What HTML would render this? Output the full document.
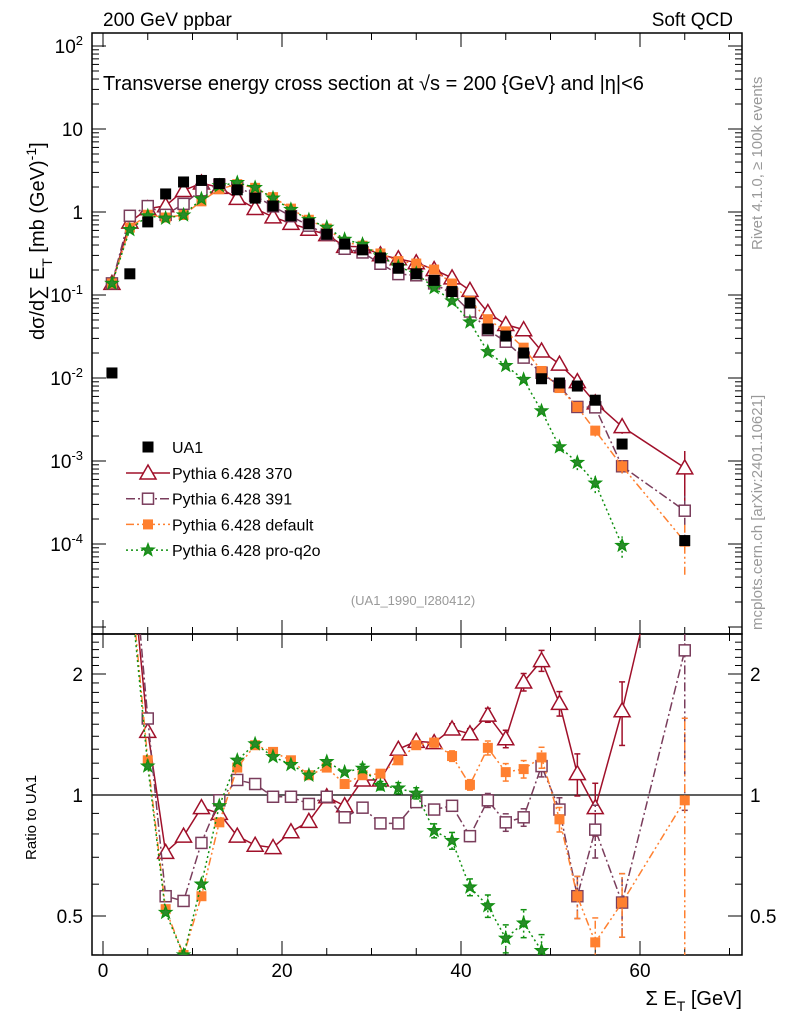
<!DOCTYPE html>
<html><head><meta charset="utf-8"><style>
html,body{margin:0;padding:0;background:#fff;width:786px;height:1024px;overflow:hidden;}
svg{display:block;font-family:"Liberation Sans",sans-serif;}
</style></head><body>
<svg id="c" width="786" height="1024" viewBox="0 0 786 1024" xmlns="http://www.w3.org/2000/svg">
<defs>
<clipPath id="cm"><rect x="92" y="33" width="650" height="601"/></clipPath>
<clipPath id="cr"><rect x="92" y="634" width="650" height="321"/></clipPath>
</defs>
<text x="103" y="26" font-size="19">200 GeV ppbar</text>
<text x="733" y="26" font-size="19" text-anchor="end">Soft QCD</text>
<text x="103" y="90" font-size="20">Transverse energy cross section at √s = 200 {GeV} and |η|&lt;6</text>
<text x="413" y="605" font-size="13" fill="#999" text-anchor="middle">(UA1_1990_I280412)</text>
<text transform="translate(762,250) rotate(-90)" font-size="15" fill="#999">Rivet 4.1.0, ≥ 100k events</text>
<text transform="translate(762,630) rotate(-90)" font-size="15" fill="#999">mcplots.cern.ch [arXiv:2401.10621]</text>
<text transform="translate(44,340) rotate(-90)" font-size="20">dσ/d∑ E<tspan dy="8" font-size="14">T</tspan><tspan dy="-8"> [mb (GeV)</tspan><tspan dy="-8" font-size="14">-1</tspan><tspan dy="8">]</tspan></text>
<text transform="translate(36,860) rotate(-90)" font-size="15">Ratio to UA1</text>
<text x="742" y="1005" font-size="20" text-anchor="end">Σ E<tspan dy="6" font-size="14">T</tspan><tspan dy="-6"> [GeV]</tspan></text>
<g id="g"></g>
</svg>
<script>
const xs = [1,3,5,7,9,11,13,15,17,19,21,23,25,27,29,31,33,35,37,39,41,43,45,47,49,51,53,55,58,65];
const ua1 = [0.0115,0.18,0.76,1.65,2.3,2.4,2.2,1.85,1.47,1.18,0.9,0.72,0.54,0.41,0.35,0.28,0.21,0.18,0.15,0.11,0.08,0.039,0.032,0.02,0.0098,0.0087,0.008,0.0054,0.0016,0.00011];
const r370 = [12,4.2,1.44,0.72,0.79,0.93,0.90,0.79,0.75,0.74,0.81,0.86,0.99,0.94,1.09,1.09,1.30,1.36,1.35,1.46,1.42,1.58,1.38,1.91,2.16,1.69,1.13,0.93,1.62,7.5];
const r391 = [12,5,1.55,0.56,0.545,0.76,0.97,1.09,1.065,0.99,0.99,0.95,0.99,0.88,0.93,0.85,0.85,0.96,0.92,0.94,0.79,0.97,0.855,0.88,1.18,0.92,0.56,0.82,0.54,2.29];
const rDef = [12,3.6,1.22,0.52,0.40,0.56,0.855,1.17,1.33,1.28,1.22,1.12,1.17,1.065,1.12,1.13,1.22,1.33,1.35,1.25,1.06,1.31,1.14,1.16,1.24,0.87,0.56,0.43,0.54,0.97];
const rQ2o = [12,3.4,1.18,0.51,0.40,0.60,0.94,1.22,1.34,1.245,1.19,1.12,1.21,1.14,1.165,1.055,1.04,1.01,0.815,0.77,0.59,0.53,0.44,0.48,0.41,0.17,0.12,0.1,0.06,null];
const relErr = [0.01,0.01,0.01,0.01,0.01,0.01,0.01,0.01,0.01,0.01,0.01,0.01,0.01,0.01,0.015,0.015,0.02,0.02,0.025,0.03,0.03,0.04,0.05,0.05,0.06,0.07,0.12,0.15,0.18,0.6];
const xTicks = [0,20,40,60];
const yDecades = [-4,-3,-2,-1,0,1,2];
const rTicks = [0.5,1,2];

const NS="http://www.w3.org/2000/svg";
const G=document.getElementById('g');
const X=v=>103+8.95*v;
const Y=v=>212-83*Math.log10(v);
const R=r=>795-121*Math.log2(r);
function mk(tag,attrs,parent){const e=document.createElementNS(NS,tag);for(const k in attrs)e.setAttribute(k,attrs[k]);(parent||G).appendChild(e);return e;}

let f1=mk('rect',{x:92,y:33,width:650,height:601,fill:'none',stroke:'#000','stroke-width':1.5});


let f2=mk('rect',{x:92,y:634,width:650,height:321,fill:'none',stroke:'#000','stroke-width':1.5});


let one=mk('line',{x1:92,x2:742,y1:R(1),y2:R(1),stroke:'#000','stroke-width':1.2});



for(let v=0;v<=70;v+=5){
  const major=v%20===0, L=major?14:7, px=X(v);
  [[33,1],[634,-1],[634,1],[955,-1]].forEach(([y0,d])=>{
    const t=mk('line',{x1:px,x2:px,y1:y0,y2:y0+d*L,stroke:'#000','stroke-width':1});
    
    
  });
}
xTicks.forEach(v=>{
  const t=mk('text',{x:X(v),y:977,'font-size':19,'text-anchor':'middle'});t.textContent=v;
  
  
});
for(let d=-5;d<=2;d++){
  for(let m=1;m<10;m++){
    const v=m*Math.pow(10,d), py=Y(v); if(py<33||py>634)continue;
    const L=m===1?14:7;
    [[92,1],[742,-1]].forEach(([x0,s])=>{
      const t=mk('line',{x1:x0,x2:x0+s*L,y1:py,y2:py,stroke:'#000','stroke-width':1});
      
      
    });
  }
}
yDecades.forEach(d=>{
  const t=mk('text',{x:83,y:Y(Math.pow(10,d))+7,'font-size':19,'text-anchor':'end'});
  
  
  if(d===0)t.textContent='1';
  else if(d===1)t.textContent='10';
  else{t.textContent='10';const s=mk('tspan',{dy:-8,'font-size':13},t);s.textContent=d;}
});
for(let r=0.4;r<=2.5;r+=0.1){
  const py=R(r); if(py<634||py>955)continue;
  const major=Math.abs(r-0.5)<1e-6||Math.abs(r-1)<1e-6||Math.abs(r-2)<1e-6;
  const L=major?14:7;
  [[92,1],[742,-1]].forEach(([x0,s])=>{
    const t=mk('line',{x1:x0,x2:x0+s*L,y1:py,y2:py,stroke:'#000','stroke-width':1});
    
    
  });
}
rTicks.forEach(r=>{
  [[83,'end'],[750,'start']].forEach(([x0,a])=>{
    const t=mk('text',{x:x0,y:R(r)+7,'font-size':19,'text-anchor':a});t.textContent=r;
    
    
  });
});

function marker(type,color,px,py,par){
  let e;
  if(type==='tri') e=mk('path',{d:`M${px},${py-8}L${px+8},${py+6}L${px-8},${py+6}Z`,fill:'#fff',stroke:color,'stroke-width':1.5},par);
  else if(type==='osq') e=mk('rect',{x:px-5.5,y:py-5.5,width:11,height:11,fill:'#fff',stroke:color,'stroke-width':1.5},par);
  else if(type==='fsq') e=mk('rect',{x:px-5,y:py-5,width:10,height:10,fill:color},par);
  else if(type==='bsq') e=mk('rect',{x:px-5.5,y:py-5.5,width:11,height:11,fill:color},par);
  else {let p='';for(let i=0;i<10;i++){const a=-Math.PI/2+i*Math.PI/5,rr=i%2?2.7:6.5;p+=(i?'L':'M')+(px+rr*Math.cos(a)).toFixed(1)+','+(py+rr*Math.sin(a)).toFixed(1);}
    e=mk('path',{d:p+'Z',fill:'#2a8a2a',stroke:color,'stroke-width':1.2},par);}
  return e;
}

const series=[
  {name:'pythia-370',ratio:r370,color:'#a0102a',dash:'',m:'tri',label:'Pythia 6.428 370'},
  {name:'pythia-391',ratio:r391,color:'#7a3d5c',dash:'9,3,2,3',m:'osq',label:'Pythia 6.428 391'},
  {name:'pythia-default',ratio:rDef,color:'#ff8030',dash:'8,3,2,3,2,3',m:'fsq',label:'Pythia 6.428 default'},
  {name:'pythia-pro-q2o',ratio:rQ2o,color:'#109010',dash:'2,3',m:'star',label:'Pythia 6.428 pro-q2o'}
];
const mainG=mk('g',{'clip-path':'url(#cm)'});
const ratG=mk('g',{'clip-path':'url(#cr)'});
series.forEach(s=>{
  const gm=mk('g',{},mainG);
  
  
  const gr=mk('g',{},ratG);
  
  
  let pm='',pr='';
  xs.forEach((x,i)=>{
    const r=s.ratio[i]; if(r==null)return;
    const v=r*ua1[i];
    pm+=(pm?'L':'M')+X(x).toFixed(1)+','+Y(v).toFixed(1);
    pr+=(pr?'L':'M')+X(x).toFixed(1)+','+R(r).toFixed(1);
  });
  mk('path',{d:pm,fill:'none',stroke:s.color,'stroke-width':1.5,'stroke-dasharray':s.dash},gm);
  mk('path',{d:pr,fill:'none',stroke:s.color,'stroke-width':1.5,'stroke-dasharray':s.dash},gr);
  xs.forEach((x,i)=>{
    const r=s.ratio[i]; if(r==null)return;
    const v=r*ua1[i], e=relErr[i]*(s.m==='star'?1.6:1);
    if(e>0.02){
      const lo=Math.max(1-e,0.01),hi=1+e;
      mk('line',{x1:X(x),x2:X(x),y1:Y(v*lo),y2:Y(v*hi),stroke:s.color,'stroke-width':1.5,'stroke-dasharray':s.dash},gm);
      mk('line',{x1:X(x),x2:X(x),y1:R(r*lo),y2:R(r*hi),stroke:s.color,'stroke-width':1.5,'stroke-dasharray':s.dash},gr);
      [lo,hi].forEach(k=>mk('line',{x1:X(x)-3,x2:X(x)+3,y1:R(r*k),y2:R(r*k),stroke:s.color,'stroke-width':1.5},gr));
    }
    const a=marker(s.m,s.color,X(x),Y(v),gm);
    
    
    const b=marker(s.m,s.color,X(x),R(r),gr);
    
    
  });
});
const gu=mk('g',{},mainG);


xs.forEach((x,i)=>{
  const a=marker('bsq','#000',X(x),Y(ua1[i]),gu);
  
  
});
const lg=mk('g',{});


const le=mk('g',{},lg);


marker('bsq','#000',148,447,le);
let t0=mk('text',{x:172,y:453,'font-size':16},le);t0.textContent='UA1';
series.forEach((s,k)=>{
  const yy=473+k*25.7;
  const e=mk('g',{},lg);
  
  
  mk('line',{x1:126,x2:170,y1:yy,y2:yy,stroke:s.color,'stroke-width':1.5,'stroke-dasharray':s.dash},e);
  marker(s.m,s.color,148,yy,e);
  const t=mk('text',{x:172,y:yy+6,'font-size':16},e);t.textContent=s.label;
});
</script>
</body></html>
